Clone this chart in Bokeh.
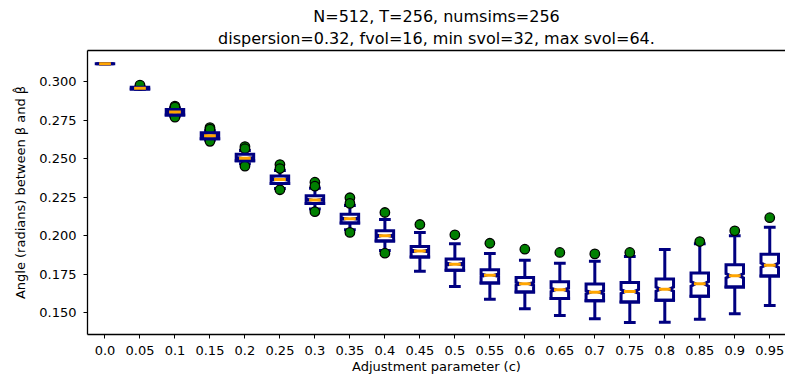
import numpy as np
from bokeh.plotting import figure
from bokeh.models import (ColumnDataSource, Range1d, FixedTicker, Title, LinearAxis,
                          CustomJSTickFormatter)
from bokeh.embed import file_html
from bokeh.resources import INLINE

# ---- data ----
c_labels = ["0.0", "0.05", "0.1", "0.15", "0.2", "0.25", "0.3", "0.35", "0.4", "0.45",
            "0.5", "0.55", "0.6", "0.65", "0.7", "0.75", "0.8", "0.85", "0.9", "0.95"]
whis_lo = [0.3118, 0.2952, 0.2778, 0.2622, 0.2468, 0.2307, 0.2173, 0.2038, 0.1904, 0.1769,
           0.1670, 0.1587, 0.1524, 0.1481, 0.1459, 0.1435, 0.1437, 0.1457, 0.1492, 0.1546]
q1 = [0.3118, 0.2955, 0.2786, 0.2631, 0.2487, 0.2340, 0.2210, 0.2083, 0.1966, 0.1862,
      0.1776, 0.1693, 0.1634, 0.1591, 0.1576, 0.1569, 0.1580, 0.1606, 0.1667, 0.1737]
median = [0.3118, 0.2960, 0.2804, 0.2650, 0.2504, 0.2366, 0.2233, 0.2110, 0.1999, 0.1900,
          0.1815, 0.1743, 0.1687, 0.1648, 0.1632, 0.1637, 0.1652, 0.1687, 0.1739, 0.1808]
q3 = [0.3118, 0.2965, 0.2821, 0.2670, 0.2530, 0.2388, 0.2260, 0.2140, 0.2032, 0.1930,
      0.1848, 0.1778, 0.1728, 0.1700, 0.1685, 0.1695, 0.1718, 0.1757, 0.1811, 0.1880]
whis_hi = [0.3118, 0.2968, 0.2830, 0.2683, 0.2554, 0.2424, 0.2309, 0.2197, 0.2105, 0.2021,
           0.1947, 0.1884, 0.1840, 0.1821, 0.1834, 0.1865, 0.1910, 0.1947, 0.1999, 0.2055]
fliers = [[], [0.2980], [0.2843, 0.2836, 0.2771], [0.2703, 0.2693, 0.2614],
          [0.2580, 0.2566, 0.2452], [0.2463, 0.2437, 0.2299], [0.2348, 0.2322, 0.2156],
          [0.2247, 0.2210, 0.2021], [0.2151, 0.1886], [0.2073], [0.2006], [0.1951],
          [0.1912], [0.1891], [0.1882], [0.1891], [], [0.1962], [0.2032], [0.2117]]
y_ticks = [0.150, 0.175, 0.200, 0.225, 0.250, 0.275, 0.300]
n_sims = 256

title1 = "N=512, T=256, numsims=256"
title2 = "dispersion=0.32, fvol=16, min svol=32, max svol=64."
x_title = "Adjustment parameter (c)"
y_title = "Angle (radians) between \u03b2 and \u03b2\u0302"

NAVY = "#000080"
ORANGE = "#FFA500"
GREEN = "#008000"
FONT = "DejaVu Sans"

pos = np.arange(1, len(c_labels) + 1)
width = 0.5
half = width / 2
capw = width / 4

# notched box outlines (matplotlib style)
xs, ys = [], []
for p_, a, m, b in zip(pos, q1, median, q3):
    iqr = b - a
    nmin = m - 1.57 * iqr / np.sqrt(n_sims)
    nmax = m + 1.57 * iqr / np.sqrt(n_sims)
    L, R, cl, cr = p_ - half, p_ + half, p_ - capw, p_ + capw
    xs.append([L, R, R, cr, R, R, L, L, cl, L, L])
    ys.append([a, a, nmin, m, nmax, b, b, nmax, m, nmin, a])
box_src = ColumnDataSource(dict(xs=xs, ys=ys))

seg_src = ColumnDataSource(dict(
    x=pos, q1=q1, q3=q3, lo=whis_lo, hi=whis_hi, med=median,
    xl=pos - capw, xr=pos + capw, bl=pos - half, br=pos + half))

fx, fy = [], []
for p_, fl in zip(pos, fliers):
    for v in fl:
        fx.append(p_)
        fy.append(v)
fl_src = ColumnDataSource(dict(x=fx, y=fy))

p = figure(width=785, height=381, output_backend="svg", toolbar_location=None,
           x_range=Range1d(0.5, 20.45), y_range=Range1d(0.13572, 0.32049),
           min_border_left=87, min_border_right=0, min_border_top=50, min_border_bottom=47)
p.background_fill_color = "white"
p.border_fill_color = "white"
p.outline_line_color = None
p.xgrid.visible = False
p.ygrid.visible = False

# whiskers & caps
p.segment(x0="x", y0="q3", x1="x", y1="hi", source=seg_src, line_color=NAVY, line_width=3)
p.segment(x0="x", y0="q1", x1="x", y1="lo", source=seg_src, line_color=NAVY, line_width=3)
p.segment(x0="xl", y0="hi", x1="xr", y1="hi", source=seg_src, line_color=NAVY,
          line_width=3, line_cap="square")
p.segment(x0="xl", y0="lo", x1="xr", y1="lo", source=seg_src, line_color=NAVY,
          line_width=3, line_cap="square")
# fliers
p.scatter(x="x", y="y", source=fl_src, size=9.5, fill_color=GREEN, line_color="black",
          line_width=1.3)
# boxes
p.patches(xs="xs", ys="ys", source=box_src, fill_color="white", line_color=NAVY,
          line_width=3, line_join="miter")
# box bottoms (visible also when a box collapses to a line)
p.segment(x0="bl", y0="q1", x1="br", y1="q1", source=seg_src, line_color=NAVY,
          line_width=3, line_cap="square")
# medians
p.segment(x0="xl", y0="med", x1="xr", y1="med", source=seg_src, line_color=ORANGE,
          line_width=3, line_cap="square")

# axes
xa = p.xaxis[0]
xa.ticker = FixedTicker(ticks=list(pos))
xa.major_label_overrides = {int(i): lab for i, lab in zip(pos, c_labels)}
xa.axis_label = x_title
ya = p.yaxis[0]
ya.ticker = FixedTicker(ticks=y_ticks)
ya.formatter = CustomJSTickFormatter(code="return tick.toFixed(3);")
ya.axis_label = y_title
for ax in (xa, ya):
    ax.axis_line_width = 1.3
    ax.axis_line_color = "black"
    ax.major_tick_line_color = "black"
    ax.major_tick_line_width = 1
    ax.major_tick_in = 0
    ax.major_tick_out = 4
    ax.minor_tick_line_color = None
    ax.major_label_text_font = FONT
    ax.major_label_text_font_size = "13px"
    ax.major_label_text_color = "black"
    ax.axis_label_text_font = FONT
    ax.axis_label_text_font_size = "13px"
    ax.axis_label_text_font_style = "normal"
    ax.axis_label_text_color = "black"
xa.major_label_standoff = 7
xa.axis_label_standoff = 1
ya.major_label_standoff = 7
ya.axis_label_standoff = 8

# top spine
top = LinearAxis(ticker=FixedTicker(ticks=[]), major_tick_out=0, major_tick_in=0,
                 major_label_standoff=0, major_label_text_font_size="0px",
                 axis_line_width=1.3, axis_line_color="black", minor_tick_line_color=None)
p.add_layout(top, "above")

t2 = Title(text=title2, align="center", text_font=FONT, text_font_size="16px",
           text_font_style="normal", text_color="black", standoff=6)
t1 = Title(text=title1, align="center", text_font=FONT, text_font_size="16px",
           text_font_style="normal", text_color="black", standoff=-4)
p.add_layout(t2, "above")
p.add_layout(t1, "above")

open("out.html", "w").write(file_html(p, INLINE))
